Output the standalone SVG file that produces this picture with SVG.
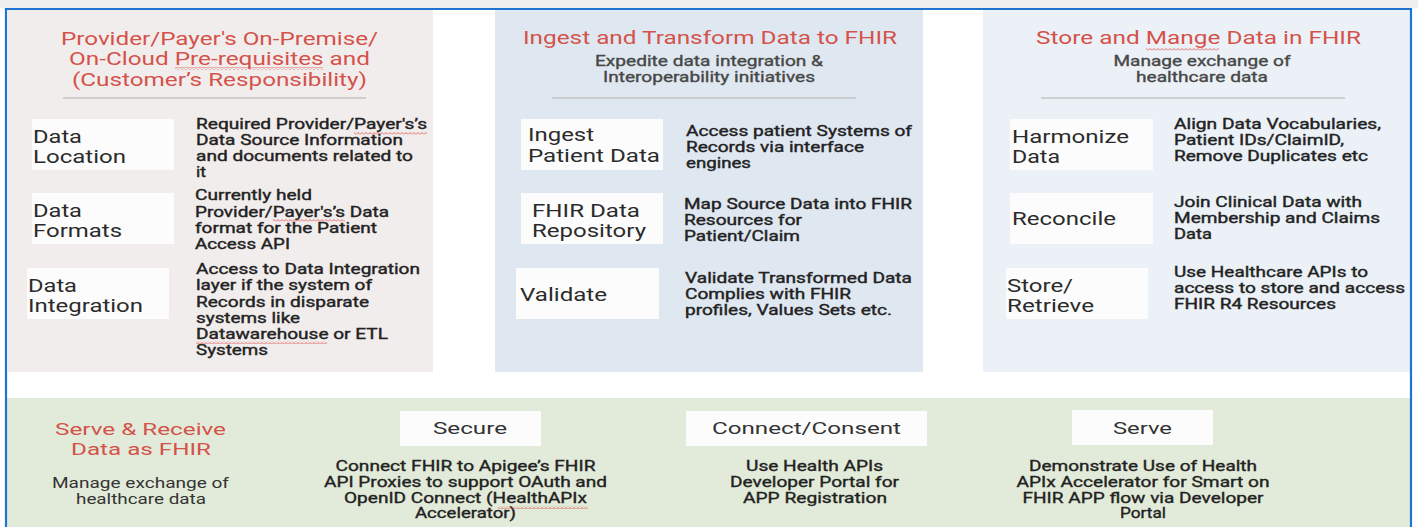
<svg xmlns="http://www.w3.org/2000/svg" width="1418" height="527" viewBox="0 0 1418 527">
<defs>
<pattern id="squig" width="4" height="3" patternUnits="userSpaceOnUse">
<path d="M0,2.5 L2,0.5 L4,2.5" fill="none" stroke="#e04848" stroke-width="0.8"/>
</pattern>
</defs>
<style>
text{font-family:Roboto,"Liberation Sans",Arial,sans-serif}
.ttl{font-size:18.5px;fill:#d4524a;text-anchor:middle}
.sub{font-size:15px;fill:#474747;text-anchor:middle;stroke:#474747;stroke-width:0.35}
.lbl{font-size:18px;fill:#2b2b2b}
.dsc{font-size:15px;fill:#222;stroke:#222;stroke-width:0.4}
.box{fill:#fcfcfc}
.rule{stroke:#c3c3c3;stroke-width:1.5}
.btt{font-size:17px;fill:#d4524a;text-anchor:middle}
.bsub{font-size:14.5px;fill:#333;text-anchor:middle}
.blb{font-size:17px;fill:#333;text-anchor:middle}
.bds{font-size:14.5px;fill:#222;text-anchor:middle;stroke:#222;stroke-width:0.35}
.sq{fill:url(#squig)}
</style>
<rect x="0" y="0" width="1418" height="527" fill="#ffffff"/>
<rect x="0" y="0" width="1418" height="8" fill="#efefef"/>
<g id="panel-prerequisites">
<rect x="8" y="10" width="425" height="362" fill="#f2eded"/>
<text class="ttl" x="219.5" y="44.5" textLength="317" lengthAdjust="spacingAndGlyphs">Provider/Payer's On-Premise/</text>
<text class="ttl" x="219.5" y="65" textLength="301" lengthAdjust="spacingAndGlyphs">On-Cloud Pre-requisites and</text>
<text class="ttl" x="219.5" y="85.5" textLength="295" lengthAdjust="spacingAndGlyphs">(Customer’s Responsibility)</text>
<rect class="sq" x="175" y="67" width="148" height="3"/>
<line class="rule" x1="63" y1="98" x2="366" y2="98"/>
</g>
<g id="node-data-location">
<rect class="box" x="32" y="119" width="142" height="51"/>
<text class="lbl" x="33" y="143" textLength="49" lengthAdjust="spacingAndGlyphs">Data</text>
<text class="lbl" x="33" y="163" textLength="93" lengthAdjust="spacingAndGlyphs">Location</text>
<text class="dsc" x="196" y="129" textLength="231" lengthAdjust="spacingAndGlyphs">Required Provider/Payer's’s</text>
<text class="dsc" x="196" y="145" textLength="207" lengthAdjust="spacingAndGlyphs">Data Source Information</text>
<text class="dsc" x="196" y="161" textLength="217" lengthAdjust="spacingAndGlyphs">and documents related to</text>
<text class="dsc" x="196" y="177" textLength="10" lengthAdjust="spacingAndGlyphs">it</text>
<rect class="sq" x="354" y="132" width="73" height="3"/>
</g>
<g id="node-data-formats">
<rect class="box" x="32" y="193" width="142" height="51"/>
<text class="lbl" x="33" y="217" textLength="49" lengthAdjust="spacingAndGlyphs">Data</text>
<text class="lbl" x="33" y="237" textLength="89" lengthAdjust="spacingAndGlyphs">Formats</text>
<text class="dsc" x="195" y="200" textLength="117" lengthAdjust="spacingAndGlyphs">Currently held</text>
<text class="dsc" x="195" y="217" textLength="194" lengthAdjust="spacingAndGlyphs">Provider/Payer's’s Data</text>
<text class="dsc" x="195" y="233" textLength="182" lengthAdjust="spacingAndGlyphs">format for the Patient</text>
<text class="dsc" x="195" y="249" textLength="95" lengthAdjust="spacingAndGlyphs">Access API</text>
<rect class="sq" x="273" y="219" width="72" height="3"/>
</g>
<g id="node-data-integration">
<rect class="box" x="27" y="268" width="142" height="51"/>
<text class="lbl" x="28" y="292" textLength="49" lengthAdjust="spacingAndGlyphs">Data</text>
<text class="lbl" x="28" y="312" textLength="115" lengthAdjust="spacingAndGlyphs">Integration</text>
<text class="dsc" x="196" y="274" textLength="224" lengthAdjust="spacingAndGlyphs">Access to Data Integration</text>
<text class="dsc" x="196" y="290" textLength="176" lengthAdjust="spacingAndGlyphs">layer if the system of</text>
<text class="dsc" x="196" y="307" textLength="173" lengthAdjust="spacingAndGlyphs">Records in disparate</text>
<text class="dsc" x="196" y="323" textLength="104" lengthAdjust="spacingAndGlyphs">systems like</text>
<text class="dsc" x="196" y="339" textLength="192" lengthAdjust="spacingAndGlyphs">Datawarehouse or ETL</text>
<text class="dsc" x="196" y="355" textLength="72" lengthAdjust="spacingAndGlyphs">Systems</text>
<rect class="sq" x="196" y="341" width="131" height="3"/>
</g>
<g id="panel-ingest">
<rect x="495" y="10" width="428" height="362" fill="#dfe7f1"/>
<text class="ttl" x="710" y="43.5" textLength="374" lengthAdjust="spacingAndGlyphs">Ingest and Transform Data to FHIR</text>
<text class="sub" x="709" y="66" textLength="228" lengthAdjust="spacingAndGlyphs">Expedite data integration &amp;</text>
<text class="sub" x="709" y="82" textLength="212" lengthAdjust="spacingAndGlyphs">Interoperability initiatives</text>
<line class="rule" x1="552" y1="98" x2="856" y2="98"/>
</g>
<g id="node-ingest-patient-data">
<rect class="box" x="521" y="119" width="142" height="51"/>
<text class="lbl" x="528" y="141" textLength="66" lengthAdjust="spacingAndGlyphs">Ingest</text>
<text class="lbl" x="528" y="162" textLength="132" lengthAdjust="spacingAndGlyphs">Patient Data</text>
<text class="dsc" x="686" y="136" textLength="226" lengthAdjust="spacingAndGlyphs">Access patient Systems of</text>
<text class="dsc" x="686" y="152" textLength="178" lengthAdjust="spacingAndGlyphs">Records via interface</text>
<text class="dsc" x="686" y="168" textLength="65" lengthAdjust="spacingAndGlyphs">engines</text>
</g>
<g id="node-fhir-data-repository">
<rect class="box" x="521" y="193" width="142" height="51"/>
<text class="lbl" x="532" y="217" textLength="108" lengthAdjust="spacingAndGlyphs">FHIR Data</text>
<text class="lbl" x="532" y="237" textLength="114" lengthAdjust="spacingAndGlyphs">Repository</text>
<text class="dsc" x="684" y="209" textLength="228" lengthAdjust="spacingAndGlyphs">Map Source Data into FHIR</text>
<text class="dsc" x="684" y="225" textLength="118" lengthAdjust="spacingAndGlyphs">Resources for</text>
<text class="dsc" x="684" y="241" textLength="116" lengthAdjust="spacingAndGlyphs">Patient/Claim</text>
</g>
<g id="node-validate">
<rect class="box" x="516" y="268" width="143" height="51"/>
<text class="lbl" x="520" y="301" textLength="87" lengthAdjust="spacingAndGlyphs">Validate</text>
<text class="dsc" x="685" y="283" textLength="227" lengthAdjust="spacingAndGlyphs">Validate Transformed Data</text>
<text class="dsc" x="685" y="299" textLength="166" lengthAdjust="spacingAndGlyphs">Complies with FHIR</text>
<text class="dsc" x="685" y="315" textLength="207" lengthAdjust="spacingAndGlyphs">profiles, Values Sets etc.</text>
</g>
<g id="panel-store">
<rect x="983" y="10" width="427" height="362" fill="#ebf1f6"/>
<text class="ttl" x="1198.5" y="43.5" textLength="325" lengthAdjust="spacingAndGlyphs">Store and Mange Data in FHIR</text>
<rect class="sq" x="1146" y="48" width="73" height="3"/>
<text class="sub" x="1202" y="66" textLength="177" lengthAdjust="spacingAndGlyphs">Manage exchange of</text>
<text class="sub" x="1202" y="82" textLength="132" lengthAdjust="spacingAndGlyphs">healthcare data</text>
<line class="rule" x1="1041" y1="98" x2="1345" y2="98"/>
</g>
<g id="node-harmonize">
<rect class="box" x="1010" y="119" width="143" height="51"/>
<text class="lbl" x="1012" y="143" textLength="117" lengthAdjust="spacingAndGlyphs">Harmonize</text>
<text class="lbl" x="1012" y="163" textLength="48" lengthAdjust="spacingAndGlyphs">Data</text>
<text class="dsc" x="1174" y="129" textLength="207" lengthAdjust="spacingAndGlyphs">Align Data Vocabularies,</text>
<text class="dsc" x="1174" y="145" textLength="170" lengthAdjust="spacingAndGlyphs">Patient IDs/ClaimID,</text>
<text class="dsc" x="1174" y="161" textLength="194" lengthAdjust="spacingAndGlyphs">Remove Duplicates etc</text>
</g>
<g id="node-reconcile">
<rect class="box" x="1010" y="193" width="143" height="51"/>
<text class="lbl" x="1012" y="225" textLength="104" lengthAdjust="spacingAndGlyphs">Reconcile</text>
<text class="dsc" x="1174" y="207" textLength="188" lengthAdjust="spacingAndGlyphs">Join Clinical Data with</text>
<text class="dsc" x="1174" y="223" textLength="206" lengthAdjust="spacingAndGlyphs">Membership and Claims</text>
<text class="dsc" x="1174" y="239" textLength="38" lengthAdjust="spacingAndGlyphs">Data</text>
</g>
<g id="node-store-retrieve">
<rect class="box" x="1006" y="268" width="142" height="51"/>
<text class="lbl" x="1007" y="292" textLength="66" lengthAdjust="spacingAndGlyphs">Store/</text>
<text class="lbl" x="1007" y="312" textLength="87" lengthAdjust="spacingAndGlyphs">Retrieve</text>
<text class="dsc" x="1174" y="277" textLength="194" lengthAdjust="spacingAndGlyphs">Use Healthcare APIs to</text>
<text class="dsc" x="1174" y="293" textLength="231" lengthAdjust="spacingAndGlyphs">access to store and access</text>
<text class="dsc" x="1174" y="309" textLength="162" lengthAdjust="spacingAndGlyphs">FHIR R4 Resources</text>
</g>
<g id="panel-serve-receive">
<rect x="7" y="398" width="1403" height="130" fill="#e2ebd9"/>
<text class="btt" x="140.5" y="435" textLength="171" lengthAdjust="spacingAndGlyphs">Serve &amp; Receive</text>
<text class="btt" x="141" y="455" textLength="140" lengthAdjust="spacingAndGlyphs">Data as FHIR</text>
<text class="bsub" x="140.5" y="488" textLength="177" lengthAdjust="spacingAndGlyphs">Manage exchange of</text>
<text class="bsub" x="141" y="504" textLength="130" lengthAdjust="spacingAndGlyphs">healthcare data</text>
</g>
<g id="node-secure">
<rect class="box" x="400" y="411" width="141" height="35"/>
<text class="blb" x="470" y="434" textLength="74" lengthAdjust="spacingAndGlyphs">Secure</text>
<text class="bds" x="465.5" y="471" textLength="260" lengthAdjust="spacingAndGlyphs">Connect FHIR to Apigee’s FHIR</text>
<text class="bds" x="465.5" y="487" textLength="283" lengthAdjust="spacingAndGlyphs">API Proxies to support OAuth and</text>
<text class="bds" x="465.5" y="503" textLength="243" lengthAdjust="spacingAndGlyphs">OpenID Connect (HealthAPIx</text>
<text class="bds" x="465.5" y="518" textLength="101" lengthAdjust="spacingAndGlyphs">Accelerator)</text>
<rect class="sq" x="498" y="506" width="90" height="3"/>
</g>
<g id="node-connect-consent">
<rect class="box" x="686" y="411" width="241" height="35"/>
<text class="blb" x="806.5" y="434" textLength="189" lengthAdjust="spacingAndGlyphs">Connect/Consent</text>
<text class="bds" x="814.5" y="471" textLength="137" lengthAdjust="spacingAndGlyphs">Use Health APIs</text>
<text class="bds" x="814.5" y="487" textLength="169" lengthAdjust="spacingAndGlyphs">Developer Portal for</text>
<text class="bds" x="815" y="503" textLength="144" lengthAdjust="spacingAndGlyphs">APP Registration</text>
</g>
<g id="node-serve">
<rect class="box" x="1072" y="410" width="141" height="35"/>
<text class="blb" x="1142.5" y="434" textLength="59" lengthAdjust="spacingAndGlyphs">Serve</text>
<text class="bds" x="1143" y="471" textLength="228" lengthAdjust="spacingAndGlyphs">Demonstrate Use of Health</text>
<text class="bds" x="1143" y="487" textLength="253" lengthAdjust="spacingAndGlyphs">APIx Accelerator for Smart on</text>
<text class="bds" x="1143" y="503" textLength="241" lengthAdjust="spacingAndGlyphs">FHIR APP flow via Developer</text>
<text class="bds" x="1143" y="518" textLength="46" lengthAdjust="spacingAndGlyphs">Portal</text>
</g>
<g id="connectors"></g>
<path d="M6,540 V9 H1411 V540" fill="none" stroke="#1f74cf" stroke-width="2.2"/>
</svg>
